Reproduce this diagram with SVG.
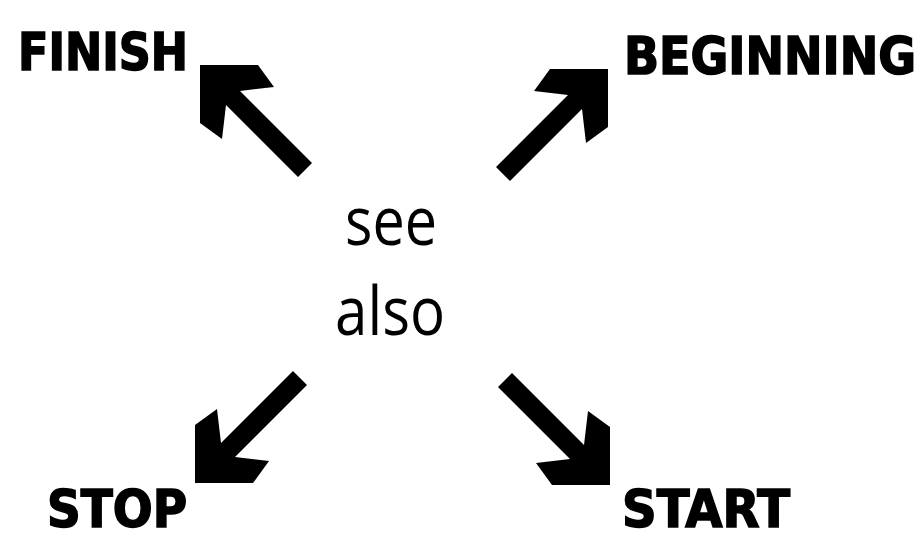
<svg xmlns="http://www.w3.org/2000/svg" xmlns:xlink="http://www.w3.org/1999/xlink" width="923" height="540" viewBox="0 0 923 540">
  <style>
    .lbl { font-family: "DejaVu Sans Condensed", "DejaVu Sans", "Liberation Sans", sans-serif; font-stretch: condensed; font-weight: bold; font-size: 52px; fill: #000; stroke: #000; stroke-width: 1.5px; }
    .mid { font-family: "Open Sans", "Noto Sans", sans-serif; font-size: 68px; fill: #000; text-anchor: middle; }
    .arr { fill: #000; }
  </style>
  <defs>
    <polygon id="arrowShape" class="arr" points="0,0 58,0 74,22 40,26 112,98 98,112 26,40 22,74 0,58"/>
  </defs>
  <rect width="923" height="540" fill="#fff"/>

  <g id="connectors">
    <use xlink:href="#arrowShape" transform="translate(200,65)"/>
    <use xlink:href="#arrowShape" transform="translate(608,69) scale(-1,1)"/>
    <use xlink:href="#arrowShape" transform="translate(195,483) scale(1,-1)"/>
    <use xlink:href="#arrowShape" transform="translate(610,485) scale(-1,-1)"/>
  </g>

  <g id="center">
    <text class="mid" x="391" y="245" textLength="92" lengthAdjust="spacingAndGlyphs">see</text>
    <text class="mid" x="390" y="335" textLength="110" lengthAdjust="spacingAndGlyphs">also</text>
  </g>
  <g id="finish">
    <text class="lbl" x="18" y="70" textLength="170" lengthAdjust="spacingAndGlyphs">FINISH</text>
  </g>
  <g id="beginning">
    <text class="lbl" x="624" y="74" textLength="292" lengthAdjust="spacingAndGlyphs">BEGINNING</text>
  </g>
  <g id="stop">
    <text class="lbl" x="47" y="527" textLength="140" lengthAdjust="spacingAndGlyphs">STOP</text>
  </g>
  <g id="start">
    <text class="lbl" x="622" y="527" textLength="168" lengthAdjust="spacingAndGlyphs">START</text>
  </g>
</svg>
